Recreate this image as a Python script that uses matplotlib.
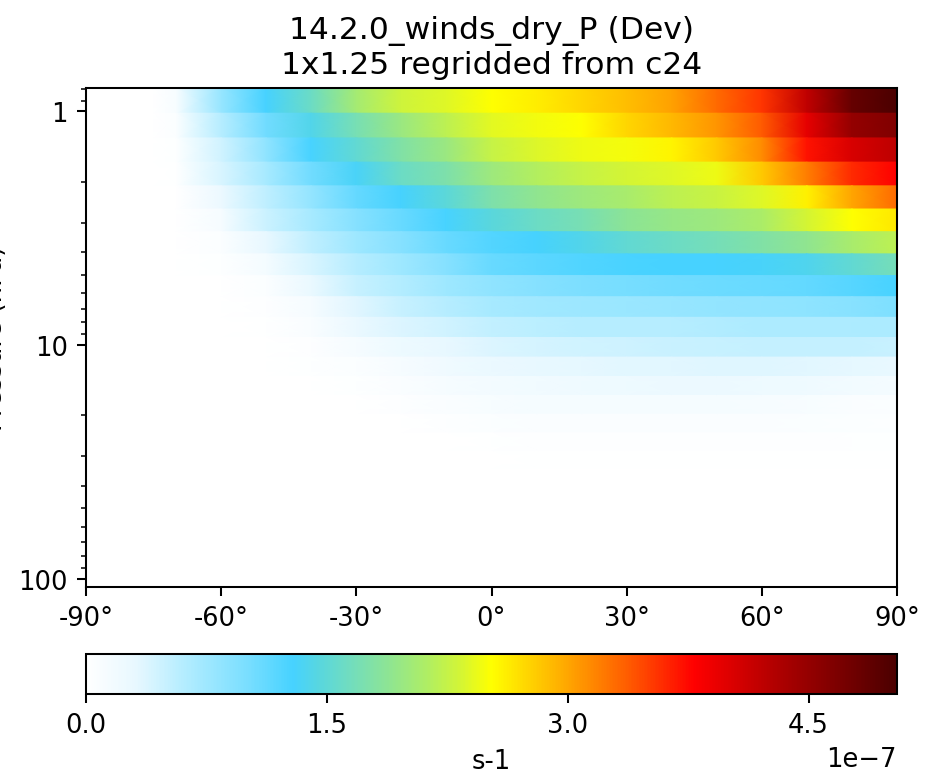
#!/usr/bin/env python3
"""
Zonal mean of 14.2.0_winds_dry_P (Dev), pressure vs latitude
"""

import numpy as np
import matplotlib
matplotlib.use("Agg")
import matplotlib.pyplot as plt
from matplotlib.colors import LinearSegmentedColormap
from matplotlib.ticker import ScalarFormatter, NullFormatter

# latitude nodes (deg) at which values were read
lat = [-90, -80, -75, -70, -60, -50, -40, -30, -20, -10, 0,
       10, 20, 30, 40, 50, 60, 70, 80, 90]

# GEOS 72-level pressure edges (hPa), from 0.795 down to 108.7
p_edges = [0.7951, 1.0194, 1.3005, 1.6508, 2.0850, 2.6202, 3.2764, 4.0766,
           5.0468, 6.2168, 7.6198, 9.2929, 11.2769, 13.6434, 16.4571,
           19.7916, 23.7304, 28.3678, 33.8100, 40.1754, 47.6439, 56.3879,
           66.6034, 78.5123, 92.3657, 108.663]

# values in units of 1e-7 s-1, one row per pressure band (top to bottom)
rate_1e7 = [
    [0, 0, 0, 0.10, 0.80, 1.29, 1.60, 2.05, 2.30, 2.38, 2.52, 2.62, 2.75, 2.88, 3.02, 3.30, 3.55, 4.20, 4.85, 5.05],
    [0, 0, 0, 0.05, 0.60, 1.05, 1.40, 1.70, 1.98, 2.20, 2.40, 2.47, 2.52, 2.75, 2.90, 3.08, 3.38, 3.95, 4.50, 4.65],
    [0, 0, 0, 0.02, 0.45, 0.85, 1.28, 1.52, 1.78, 1.98, 2.25, 2.37, 2.45, 2.48, 2.58, 2.82, 3.13, 3.70, 4.04, 4.22],
    [0, 0, 0, 0.01, 0.40, 0.70, 1.05, 1.33, 1.60, 1.75, 2.00, 2.15, 2.25, 2.33, 2.38, 2.45, 2.82, 3.20, 3.60, 3.79],
    [0, 0, 0, 0.00, 0.25, 0.55, 0.82, 1.12, 1.30, 1.48, 1.75, 1.90, 2.00, 2.08, 2.20, 2.27, 2.38, 2.60, 3.00, 3.30],
    [0, 0, 0, 0.00, 0.12, 0.48, 0.70, 0.92, 1.10, 1.28, 1.46, 1.60, 1.70, 1.87, 1.95, 2.00, 2.10, 2.33, 2.52, 2.65],
    [0, 0, 0, 0.00, 0.05, 0.30, 0.55, 0.75, 0.92, 1.10, 1.22, 1.30, 1.40, 1.52, 1.60, 1.68, 1.78, 1.90, 2.08, 2.20],
    [0, 0, 0, 0.00, 0.02, 0.14, 0.40, 0.60, 0.75, 0.92, 1.10, 1.17, 1.23, 1.27, 1.29, 1.29, 1.32, 1.38, 1.52, 1.68],
    [0, 0, 0, 0.00, 0.00, 0.05, 0.28, 0.50, 0.62, 0.75, 0.85, 0.92, 0.98, 1.02, 1.05, 1.08, 1.10, 1.13, 1.20, 1.28],
    [0, 0, 0, 0.00, 0.00, 0.03, 0.12, 0.35, 0.50, 0.60, 0.70, 0.73, 0.76, 0.78, 0.80, 0.83, 0.84, 0.86, 0.90, 0.97],
    [0, 0, 0, 0.00, 0.00, 0.01, 0.08, 0.27, 0.38, 0.45, 0.53, 0.57, 0.60, 0.60, 0.60, 0.63, 0.66, 0.66, 0.66, 0.67],
    [0, 0, 0, 0.00, 0.00, 0.00, 0.03, 0.12, 0.24, 0.30, 0.38, 0.42, 0.45, 0.46, 0.49, 0.50, 0.52, 0.52, 0.52, 0.49],
    [0, 0, 0, 0.00, 0.00, 0.00, 0.02, 0.05, 0.12, 0.20, 0.27, 0.30, 0.32, 0.34, 0.34, 0.36, 0.36, 0.34, 0.32, 0.29],
    [0, 0, 0, 0.00, 0.00, 0.00, 0.00, 0.02, 0.07, 0.12, 0.16, 0.19, 0.21, 0.23, 0.25, 0.25, 0.23, 0.21, 0.17, 0.14],
    [0, 0, 0, 0.00, 0.00, 0.00, 0.00, 0.00, 0.03, 0.07, 0.10, 0.13, 0.13, 0.13, 0.13, 0.13, 0.12, 0.10, 0.07, 0.06],
    [0, 0, 0, 0.00, 0.00, 0.00, 0.00, 0.00, 0.00, 0.03, 0.05, 0.07, 0.07, 0.07, 0.07, 0.07, 0.07, 0.06, 0.05, 0.04],
    [0, 0, 0, 0.00, 0.00, 0.00, 0.00, 0.00, 0.00, 0.00, 0.01, 0.03, 0.03, 0.03, 0.03, 0.03, 0.03, 0.03, 0.02, 0.02],
    [0, 0, 0, 0.00, 0.00, 0.00, 0.00, 0.00, 0.00, 0.00, 0.00, 0.01, 0.01, 0.01, 0.01, 0.01, 0.01, 0.01, 0.01, 0.01],
    [0] * 20,
    [0] * 20,
    [0] * 20,
    [0] * 20,
    [0] * 20,
    [0] * 20,
    [0] * 20,
]

vmax = 5.05e-7
cbar_ticks = [0, 1.5e-7, 3.0e-7, 4.5e-7]
lat_ticks = [-90, -60, -30, 0, 30, 60, 90]
lat_labels = ["%d°" % v for v in lat_ticks]

# approximation of GCPy's WhiteBlueGreenYellowRed
cmap_nodes = [
    (0.00, (255, 255, 255)), (0.06, (232, 248, 255)), (0.12, (180, 237, 255)),
    (0.20, (120, 222, 255)), (0.255, (70, 210, 255)), (0.29, (90, 215, 220)),
    (0.32, (110, 220, 195)), (0.37, (140, 228, 150)), (0.42, (175, 238, 100)),
    (0.46, (210, 245, 55)), (0.50, (255, 255, 0)), (0.58, (255, 180, 0)),
    (0.67, (255, 90, 0)), (0.75, (255, 0, 0)), (0.86, (170, 0, 0)),
    (1.00, (75, 0, 0)),
]


def make_cmap():
    return LinearSegmentedColormap.from_list(
        "WhGrYlRd", [(p, tuple(c / 255.0 for c in rgb)) for p, rgb in cmap_nodes], N=512)


def main():
    dpi = 185
    fig = plt.figure(figsize=(944 / dpi, 780 / dpi), dpi=dpi)
    ax = fig.add_axes([86 / 944, 1 - 588 / 780, 811 / 944, 499 / 780])
    cax = fig.add_axes([86 / 944, 1 - 695 / 780, 811 / 944, 40 / 780])

    # each band is flat in pressure, shaded smoothly along latitude
    vals = np.array(rate_1e7) * 1e-7
    nb = len(vals)
    X = np.tile(np.array(lat, dtype=float), (2 * nb, 1))
    Y = np.zeros_like(X)
    C = np.zeros_like(X)
    for k in range(nb):
        Y[2 * k, :] = p_edges[k]
        Y[2 * k + 1, :] = p_edges[k + 1]
        C[2 * k, :] = vals[k]
        C[2 * k + 1, :] = vals[k]

    mesh = ax.pcolormesh(X, Y, C, shading='gouraud', cmap=make_cmap(),
                         vmin=0, vmax=vmax)

    ax.set_yscale('log')
    ax.set_ylim(p_edges[-1], p_edges[0])
    ax.yaxis.set_major_formatter(ScalarFormatter())
    ax.yaxis.set_minor_formatter(NullFormatter())
    ax.set_xlim(-90, 90)
    ax.set_xticks(lat_ticks)
    ax.set_xticklabels(lat_labels)
    ax.set_ylabel('Pressure (hPa)')
    ax.set_title("14.2.0_winds_dry_P (Dev)\n1x1.25 regridded from c24",
                 fontsize=12.2)

    cb = fig.colorbar(mesh, cax=cax, orientation='horizontal', ticks=cbar_ticks)
    cb.set_label('s-1')

    fig.savefig('out.png', dpi=dpi)


if __name__ == '__main__':
    main()
